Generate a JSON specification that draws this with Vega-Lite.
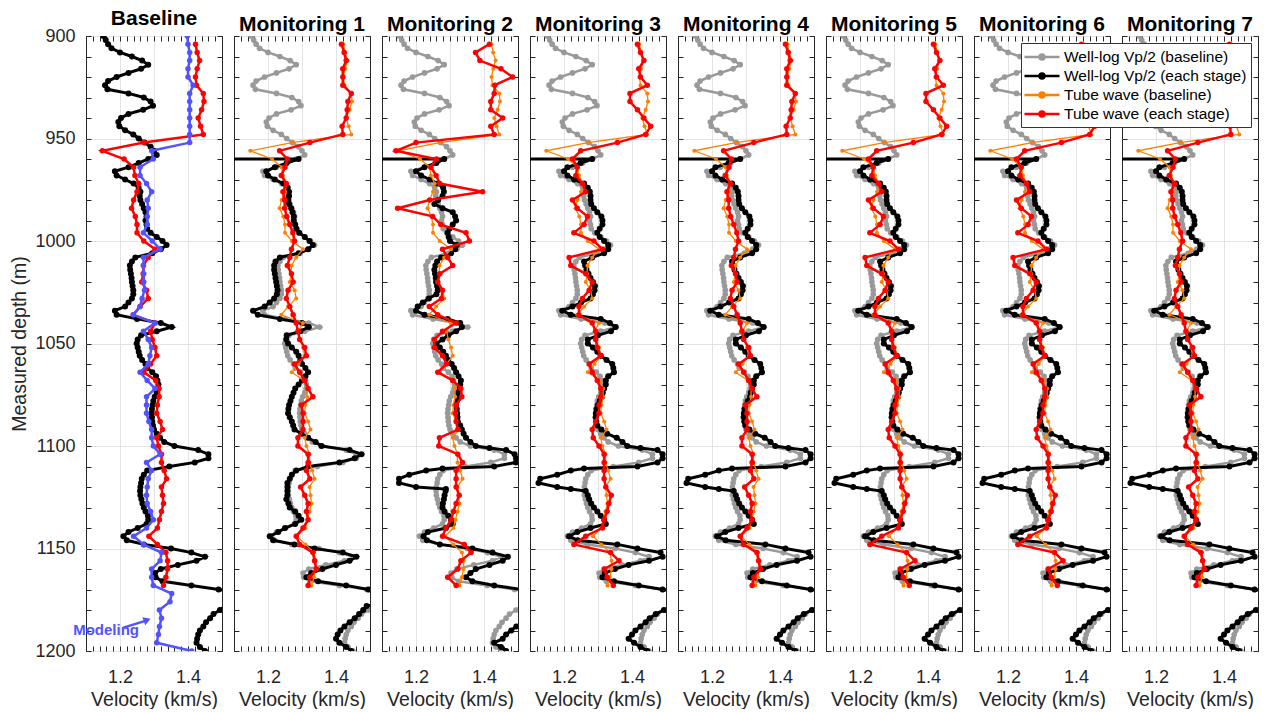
{
  "$schema": "https://vega.github.io/schema/vega-lite/v6.json",
  "padding": {"left": 9, "top": 7, "right": 3, "bottom": 0},
  "spacing": 12,
  "bounds": "flush",
  "resolve": {"scale": {"color": "independent"}, "legend": {"color": "independent"}},
  "config": {
    "font": "Liberation Sans",
    "view": {"stroke": "#262626", "strokeWidth": 1},
    "axis": {"domain": false, "tickColor": "#262626", "tickSize": -5, "tickWidth": 1, "labelColor": "#262626", "labelFont": "Liberation Sans", "labelFontSize": 18, "labelPadding": 16, "titleFont": "Liberation Sans", "titleFontSize": 19.5, "titleFontWeight": "normal", "titleColor": "#262626", "gridColor": "#e3e3e3", "gridWidth": 1, "titlePadding": 5},
    "axisX": {"labelPadding": 22, "titlePadding": 4},
    "title": {"font": "Liberation Sans", "fontSize": 21, "fontWeight": "bold", "color": "#000000", "offset": -2, "anchor": "middle"}
  },
  "datasets": {
    "wl": [
      {"d":900,"g":1.151},{"d":902,"g":1.158},{"d":904,"g":1.165},{"d":906,"g":1.175},{"d":908,"g":1.2},{"d":910,"g":1.235},{"d":912,"g":1.265},{"d":914,"g":1.283},{"d":916,"g":1.262},{"d":918,"g":1.225},{"d":920,"g":1.19},{"d":922,"g":1.165},{"d":924,"g":1.156},{"d":926,"g":1.163},{"d":928,"g":1.225},{"d":930,"g":1.27},{"d":932,"g":1.29},{"d":934,"g":1.297},{"d":936,"g":1.268},{"d":938,"g":1.225},{"d":940,"g":1.203},{"d":942,"g":1.195},{"d":944,"g":1.198},{"d":946,"g":1.215},{"d":948,"g":1.239},{"d":950,"g":1.255},{"d":952,"g":1.272},{"d":954,"g":1.29},{"d":956,"g":1.3},{"d":958,"g":1.308},
      {"d":959.9,"k1":0.9,"k2":0.9,"k3":0.9},
      {"d":960,"g":1.283,"k1":1.29,"k2":1.283,"k3":1.283},
      {"d":962,"g":1.255,"k1":1.255,"k2":1.26,"k3":1.249},
      {"d":964,"g":1.225,"k1":1.22,"k2":1.225,"k3":1.21},
      {"d":966,"g":1.185,"k1":1.195,"k2":1.2,"k3":1.2},
      {"d":968,"g":1.19,"k1":1.2,"k2":1.215,"k3":1.21},
      {"d":970,"g":1.215,"k1":1.22,"k2":1.24,"k3":1.23},
      {"d":972,"g":1.24,"k1":1.245,"k2":1.264,"k3":1.259},
      {"d":974,"g":1.255,"k1":1.258,"k2":1.28,"k3":1.27},
      {"d":976,"g":1.26,"k1":1.262,"k2":1.282,"k3":1.276},
      {"d":978,"g":1.258,"k1":1.262,"k2":1.278,"k3":1.278},
      {"d":980,"g":1.26,"k1":1.26,"k2":1.265,"k3":1.278},
      {"d":982,"g":1.265,"k1":1.262,"k2":1.254,"k3":1.28},
      {"d":984,"g":1.27,"k1":1.268,"k2":1.278,"k3":1.288},
      {"d":986,"g":1.275,"k1":1.272,"k2":1.308,"k3":1.298},
      {"d":988,"g":1.278,"k1":1.276,"k2":1.315,"k3":1.31},
      {"d":990,"g":1.275,"k1":1.276,"k2":1.318,"k3":1.313},
      {"d":992,"g":1.278,"k1":1.28,"k2":1.308,"k3":1.313},
      {"d":994,"g":1.28,"k1":1.284,"k2":1.298,"k3":1.305},
      {"d":996,"g":1.29,"k1":1.292,"k2":1.293,"k3":1.298},
      {"d":998,"g":1.308,"k1":1.308,"k2":1.296,"k3":1.305},
      {"d":1000,"g":1.325,"k1":1.322,"k2":1.3,"k3":1.318},
      {"d":1002,"g":1.337,"k1":1.332,"k2":1.32,"k3":1.33},
      {"d":1004,"g":1.32,"k1":1.318,"k2":1.315,"k3":1.33},
      {"d":1006,"g":1.295,"k1":1.29,"k2":1.303,"k3":1.318},
      {"d":1008,"g":1.245,"k1":1.235,"k2":1.274,"k3":1.283},
      {"d":1010,"g":1.235,"k1":1.222,"k2":1.262,"k3":1.259},
      {"d":1012,"g":1.229,"k1":1.218,"k2":1.257,"k3":1.262},
      {"d":1014,"g":1.23,"k1":1.218,"k2":1.254,"k3":1.266},
      {"d":1016,"g":1.232,"k1":1.22,"k2":1.256,"k3":1.272},
      {"d":1018,"g":1.234,"k1":1.222,"k2":1.258,"k3":1.278},
      {"d":1020,"g":1.235,"k1":1.224,"k2":1.259,"k3":1.285},
      {"d":1022,"g":1.237,"k1":1.226,"k2":1.262,"k3":1.291},
      {"d":1024,"g":1.239,"k1":1.228,"k2":1.264,"k3":1.29},
      {"d":1026,"g":1.239,"k1":1.226,"k2":1.26,"k3":1.285},
      {"d":1028,"g":1.235,"k1":1.218,"k2":1.238,"k3":1.278},
      {"d":1030,"g":1.225,"k1":1.205,"k2":1.22,"k3":1.25},
      {"d":1032,"g":1.215,"k1":1.19,"k2":1.205,"k3":1.225},
      {"d":1034,"g":1.185,"k1":1.156,"k2":1.2,"k3":1.195},
      {"d":1036,"g":1.19,"k1":1.17,"k2":1.225,"k3":1.22},
      {"d":1038,"g":1.25,"k1":1.235,"k2":1.293,"k3":1.308},
      {"d":1040,"g":1.32,"k1":1.3,"k2":1.33,"k3":1.335},
      {"d":1042,"g":1.352,"k1":1.32,"k2":1.335,"k3":1.352},
      {"d":1044,"g":1.308,"k1":1.295,"k2":1.318,"k3":1.338},
      {"d":1046,"g":1.262,"k1":1.255,"k2":1.295,"k3":1.3},
      {"d":1048,"g":1.252,"k1":1.254,"k2":1.278,"k3":1.27},
      {"d":1050,"g":1.249,"k1":1.259,"k2":1.26,"k3":1.27},
      {"d":1052,"g":1.252,"k1":1.27,"k2":1.27,"k3":1.285},
      {"d":1054,"g":1.255,"k1":1.283,"k2":1.28,"k3":1.298},
      {"d":1056,"g":1.258,"k1":1.29,"k2":1.288,"k3":1.308},
      {"d":1058,"g":1.265,"k1":1.295,"k2":1.295,"k3":1.325},
      {"d":1060,"g":1.275,"k1":1.3,"k2":1.305,"k3":1.342},
      {"d":1062,"g":1.28,"k1":1.31,"k2":1.312,"k3":1.345},
      {"d":1064,"g":1.295,"k1":1.318,"k2":1.318,"k3":1.347},
      {"d":1066,"g":1.306,"k1":1.31,"k2":1.325,"k3":1.33},
      {"d":1068,"g":1.31,"k1":1.3,"k2":1.332,"k3":1.323},
      {"d":1070,"g":1.313,"k1":1.29,"k2":1.33,"k3":1.323},
      {"d":1072,"g":1.312,"k1":1.28,"k2":1.327,"k3":1.318},
      {"d":1074,"g":1.308,"k1":1.275,"k2":1.323,"k3":1.314},
      {"d":1076,"g":1.302,"k1":1.27,"k2":1.322,"k3":1.312},
      {"d":1078,"g":1.298,"k1":1.266,"k2":1.32,"k3":1.305},
      {"d":1080,"g":1.296,"k1":1.262,"k2":1.318,"k3":1.3},
      {"d":1082,"g":1.294,"k1":1.26,"k2":1.32,"k3":1.296},
      {"d":1084,"g":1.293,"k1":1.259,"k2":1.321,"k3":1.294},
      {"d":1086,"g":1.294,"k1":1.264,"k2":1.322,"k3":1.293},
      {"d":1088,"g":1.295,"k1":1.27,"k2":1.323,"k3":1.295},
      {"d":1090,"g":1.297,"k1":1.274,"k2":1.33,"k3":1.298},
      {"d":1092,"g":1.3,"k1":1.278,"k2":1.335,"k3":1.31},
      {"d":1094,"g":1.308,"k1":1.298,"k2":1.34,"k3":1.327},
      {"d":1096,"g":1.318,"k1":1.318,"k2":1.347,"k3":1.355},
      {"d":1098,"g":1.33,"k1":1.34,"k2":1.36,"k3":1.372},
      {"d":1100,"g":1.36,"k1":1.357,"k2":1.376,"k3":1.386},
      {"d":1101,"k2":1.416,"k3":1.425},
      {"d":1102,"g":1.43,"k1":1.44,"k2":1.465,"k3":1.475},
      {"d":1104,"g":1.46,"k1":1.475,"k2":1.49,"k3":1.49},
      {"d":1106,"g":1.46,"k1":1.455,"k2":1.494,"k3":1.49},
      {"d":1108,"g":1.42,"k1":1.41,"k2":1.494,"k3":1.475},
      {"d":1110,"g":1.345,"k1":1.318,"k2":1.43,"k3":1.416},
      {"d":1111,"k2":1.278,"k3":1.259},
      {"d":1112,"g":1.28,"k1":1.283,"k2":1.23,"k3":1.22},
      {"d":1114,"g":1.27,"k1":1.27,"k2":1.18,"k3":1.18},
      {"d":1116,"g":1.264,"k1":1.264,"k2":1.15,"k3":1.13},
      {"d":1118,"g":1.262,"k1":1.257,"k2":1.15,"k3":1.125},
      {"d":1120,"g":1.26,"k1":1.257,"k2":1.2,"k3":1.18},
      {"d":1121,"k2":1.288,"k3":1.22},
      {"d":1122,"g":1.259,"k1":1.257,"k2":1.287,"k3":1.264},
      {"d":1124,"g":1.26,"k1":1.257,"k2":1.284,"k3":1.27},
      {"d":1126,"g":1.263,"k1":1.254,"k2":1.282,"k3":1.274},
      {"d":1128,"g":1.266,"k1":1.26,"k2":1.279,"k3":1.28},
      {"d":1130,"g":1.27,"k1":1.264,"k2":1.278,"k3":1.288},
      {"d":1132,"g":1.275,"k1":1.28,"k2":1.284,"k3":1.298},
      {"d":1134,"g":1.282,"k1":1.29,"k2":1.295,"k3":1.308},
      {"d":1136,"g":1.283,"k1":1.298,"k2":1.303,"k3":1.318},
      {"d":1138,"g":1.278,"k1":1.28,"k2":1.308,"k3":1.323},
      {"d":1140,"g":1.252,"k1":1.25,"k2":1.288,"k3":1.278},
      {"d":1142,"g":1.225,"k1":1.23,"k2":1.235,"k3":1.239},
      {"d":1144,"g":1.21,"k1":1.205,"k2":1.222,"k3":1.215},
      {"d":1146,"g":1.22,"k1":1.215,"k2":1.232,"k3":1.24},
      {"d":1148,"g":1.27,"k1":1.278,"k2":1.27,"k3":1.357},
      {"d":1150,"g":1.35,"k1":1.337,"k2":1.366,"k3":1.416},
      {"d":1152,"g":1.41,"k1":1.42,"k2":1.425,"k3":1.484},
      {"d":1154,"g":1.45,"k1":1.46,"k2":1.47,"k3":1.49},
      {"d":1156,"g":1.425,"k1":1.44,"k2":1.455,"k3":1.45},
      {"d":1158,"g":1.37,"k1":1.4,"k2":1.416,"k3":1.39},
      {"d":1160,"g":1.32,"k1":1.36,"k2":1.376,"k3":1.35},
      {"d":1162,"g":1.303,"k1":1.327,"k2":1.36,"k3":1.32},
      {"d":1164,"g":1.305,"k1":1.313,"k2":1.347,"k3":1.313},
      {"d":1166,"g":1.325,"k1":1.347,"k2":1.366,"k3":1.347},
      {"d":1168,"g":1.41,"k1":1.43,"k2":1.43,"k3":1.42},
      {"d":1170,"g":1.49,"k1":1.495,"k2":1.51,"k3":1.49},
      {"d":1172,"g":1.56,"k1":1.56,"k2":1.56,"k3":1.56},
      {"d":1174,"g":1.6,"k1":1.58,"k2":1.58,"k3":1.58},
      {"d":1176,"g":1.56,"k1":1.56,"k2":1.58,"k3":1.56},
      {"d":1178,"g":1.51,"k1":1.49,"k2":1.58,"k3":1.53},
      {"d":1180,"g":1.494,"k1":1.48,"k2":1.57,"k3":1.494},
      {"d":1182,"g":1.475,"k1":1.468,"k2":1.56,"k3":1.47},
      {"d":1184,"g":1.465,"k1":1.455,"k2":1.55,"k3":1.452},
      {"d":1186,"g":1.453,"k1":1.44,"k2":1.52,"k3":1.44},
      {"d":1188,"g":1.445,"k1":1.425,"k2":1.495,"k3":1.425},
      {"d":1190,"g":1.435,"k1":1.413,"k2":1.48,"k3":1.41},
      {"d":1192,"g":1.43,"k1":1.405,"k2":1.465,"k3":1.4},
      {"d":1194,"g":1.427,"k1":1.4,"k2":1.455,"k3":1.39},
      {"d":1196,"g":1.425,"k1":1.41,"k2":1.43,"k3":1.406},
      {"d":1198,"g":1.435,"k1":1.43,"k2":1.45,"k3":1.425},
      {"d":1200,"g":1.45,"k1":1.445,"k2":1.465,"k3":1.445}
    ],
    "tw": [
      {"d":904,"t0":1.422,"t1":1.416,"t2":1.416,"t3":1.416},
      {"d":908,"t0":1.427,"t1":1.424,"t2":1.375,"t3":1.425},
      {"d":912,"t0":1.434,"t1":1.43,"t2":1.388,"t3":1.435},
      {"d":916,"t0":1.427,"t1":1.42,"t2":1.45,"t3":1.42},
      {"d":920,"t0":1.422,"t1":1.42,"t2":1.484,"t3":1.425},
      {"d":924,"t0":1.425,"t1":1.42,"t2":1.432,"t3":1.445},
      {"d":928,"t0":1.445,"t1":1.445,"t2":1.43,"t3":1.394},
      {"d":932,"t0":1.447,"t1":1.435,"t2":1.42,"t3":1.394},
      {"d":936,"t0":1.44,"t1":1.433,"t2":1.42,"t3":1.416},
      {"d":940,"t0":1.43,"t1":1.43,"t2":1.455,"t3":1.435},
      {"d":944,"t0":1.437,"t1":1.418,"t2":1.42,"t3":1.455},
      {"d":948,"t0":1.445,"t1":1.42,"t2":1.43,"t3":1.44},
      {"d":952,"t0":1.27,"t1":1.323,"t2":1.2,"t3":1.357},
      {"d":956,"t0":1.148,"t1":1.234,"t2":1.141,"t3":1.249},
      {"d":960,"t0":1.212,"t1":1.257,"t2":1.26,"t3":1.225},
      {"d":964,"t0":1.24,"t1":1.25,"t2":1.244,"t3":1.239},
      {"d":968,"t0":1.244,"t1":1.239,"t2":1.259,"t3":1.235},
      {"d":972,"t0":1.255,"t1":1.254,"t2":1.27,"t3":1.254},
      {"d":976,"t0":1.25,"t1":1.244,"t2":1.396,"t3":1.264},
      {"d":980,"t0":1.24,"t1":1.249,"t2":1.24,"t3":1.225},
      {"d":984,"t0":1.234,"t1":1.249,"t2":1.146,"t3":1.239},
      {"d":988,"t0":1.245,"t1":1.255,"t2":1.249,"t3":1.269},
      {"d":992,"t0":1.25,"t1":1.264,"t2":1.273,"t3":1.259},
      {"d":996,"t0":1.25,"t1":1.273,"t2":1.347,"t3":1.229},
      {"d":1000,"t0":1.27,"t1":1.278,"t2":1.357,"t3":1.288},
      {"d":1004,"t0":1.303,"t1":1.269,"t2":1.278,"t3":1.313},
      {"d":1008,"t0":1.283,"t1":1.264,"t2":1.293,"t3":1.215},
      {"d":1012,"t0":1.269,"t1":1.257,"t2":1.308,"t3":1.22},
      {"d":1016,"t0":1.268,"t1":1.269,"t2":1.27,"t3":1.264},
      {"d":1020,"t0":1.264,"t1":1.274,"t2":1.264,"t3":1.283},
      {"d":1024,"t0":1.278,"t1":1.259,"t2":1.278,"t3":1.274},
      {"d":1028,"t0":1.283,"t1":1.254,"t2":1.275,"t3":1.254},
      {"d":1032,"t0":1.259,"t1":1.264,"t2":1.239,"t3":1.244},
      {"d":1036,"t0":1.239,"t1":1.274,"t2":1.264,"t3":1.244},
      {"d":1040,"t0":1.303,"t1":1.283,"t2":1.318,"t3":1.283},
      {"d":1044,"t0":1.29,"t1":1.288,"t2":1.278,"t3":1.293},
      {"d":1048,"t0":1.295,"t1":1.293,"t2":1.254,"t3":1.293},
      {"d":1052,"t0":1.303,"t1":1.308,"t2":1.254,"t3":1.298},
      {"d":1056,"t0":1.308,"t1":1.313,"t2":1.278,"t3":1.308},
      {"d":1060,"t0":1.29,"t1":1.278,"t2":1.29,"t3":1.274},
      {"d":1064,"t0":1.27,"t1":1.293,"t2":1.264,"t3":1.283},
      {"d":1068,"t0":1.305,"t1":1.308,"t2":1.308,"t3":1.298},
      {"d":1072,"t0":1.315,"t1":1.318,"t2":1.332,"t3":1.308},
      {"d":1076,"t0":1.315,"t1":1.332,"t2":1.335,"t3":1.308},
      {"d":1080,"t0":1.31,"t1":1.298,"t2":1.318,"t3":1.303},
      {"d":1084,"t0":1.308,"t1":1.303,"t2":1.316,"t3":1.303},
      {"d":1088,"t0":1.318,"t1":1.303,"t2":1.318,"t3":1.293},
      {"d":1092,"t0":1.325,"t1":1.303,"t2":1.323,"t3":1.283},
      {"d":1096,"t0":1.308,"t1":1.288,"t2":1.269,"t3":1.286},
      {"d":1100,"t0":1.313,"t1":1.288,"t2":1.267,"t3":1.303},
      {"d":1104,"t0":1.322,"t1":1.318,"t2":1.323,"t3":1.318},
      {"d":1108,"t0":1.322,"t1":1.318,"t2":1.337,"t3":1.318},
      {"d":1112,"t0":1.33,"t1":1.313,"t2":1.318,"t3":1.318},
      {"d":1116,"t0":1.337,"t1":1.323,"t2":1.318,"t3":1.318},
      {"d":1120,"t0":1.322,"t1":1.296,"t2":1.318,"t3":1.323},
      {"d":1124,"t0":1.325,"t1":1.308,"t2":1.327,"t3":1.339},
      {"d":1128,"t0":1.328,"t1":1.318,"t2":1.318,"t3":1.332},
      {"d":1132,"t0":1.322,"t1":1.313,"t2":1.31,"t3":1.327},
      {"d":1136,"t0":1.316,"t1":1.318,"t2":1.303,"t3":1.318},
      {"d":1140,"t0":1.31,"t1":1.303,"t2":1.288,"t3":1.313},
      {"d":1144,"t0":1.285,"t1":1.283,"t2":1.278,"t3":1.264},
      {"d":1148,"t0":1.31,"t1":1.293,"t2":1.342,"t3":1.229},
      {"d":1152,"t0":1.335,"t1":1.332,"t2":1.362,"t3":1.337},
      {"d":1156,"t0":1.34,"t1":1.337,"t2":1.332,"t3":1.362},
      {"d":1160,"t0":1.34,"t1":1.342,"t2":1.323,"t3":1.318},
      {"d":1164,"t0":1.335,"t1":1.323,"t2":1.293,"t3":1.327},
      {"d":1168,"t0":1.328,"t1":1.318,"t2":1.318,"t3":1.345}
    ],
    "mod": [
      {"d":900,"v":1.398},{"d":904,"v":1.4},{"d":908,"v":1.405},{"d":912,"v":1.405},{"d":916,"v":1.4},{"d":920,"v":1.4},{"d":924,"v":1.415},{"d":928,"v":1.405},{"d":932,"v":1.405},{"d":936,"v":1.405},{"d":940,"v":1.405},{"d":944,"v":1.405},{"d":948,"v":1.405},{"d":952,"v":1.405},{"d":956,"v":1.293},{"d":960,"v":1.298},{"d":964,"v":1.259},{"d":968,"v":1.259},{"d":972,"v":1.278},{"d":976,"v":1.293},{"d":980,"v":1.28},{"d":984,"v":1.283},{"d":988,"v":1.28},{"d":992,"v":1.28},{"d":996,"v":1.269},{"d":1000,"v":1.295},{"d":1004,"v":1.318},{"d":1008,"v":1.269},{"d":1012,"v":1.269},{"d":1016,"v":1.27},{"d":1020,"v":1.27},{"d":1024,"v":1.272},{"d":1028,"v":1.265},{"d":1032,"v":1.259},{"d":1036,"v":1.239},{"d":1040,"v":1.303},{"d":1044,"v":1.269},{"d":1048,"v":1.283},{"d":1052,"v":1.293},{"d":1056,"v":1.288},{"d":1060,"v":1.283},{"d":1064,"v":1.259},{"d":1068,"v":1.28},{"d":1072,"v":1.303},{"d":1076,"v":1.278},{"d":1080,"v":1.278},{"d":1084,"v":1.278},{"d":1088,"v":1.285},{"d":1092,"v":1.293},{"d":1096,"v":1.293},{"d":1100,"v":1.298},{"d":1104,"v":1.318},{"d":1108,"v":1.278},{"d":1112,"v":1.293},{"d":1116,"v":1.283},{"d":1120,"v":1.28},{"d":1124,"v":1.278},{"d":1128,"v":1.28},{"d":1132,"v":1.29},{"d":1136,"v":1.298},{"d":1140,"v":1.278},{"d":1144,"v":1.24},{"d":1148,"v":1.269},{"d":1152,"v":1.322},{"d":1156,"v":1.318},{"d":1160,"v":1.293},{"d":1164,"v":1.293},{"d":1168,"v":1.298},{"d":1172,"v":1.352},{"d":1176,"v":1.347},{"d":1180,"v":1.316},{"d":1184,"v":1.322},{"d":1188,"v":1.316},{"d":1192,"v":1.313},{"d":1196,"v":1.308},{"d":1200,"v":1.411}
    ],
    "arrow": [{"d":1188.6,"v":1.21},{"d":1185.4,"v":1.272}],
    "arrowhead": [{"d":1184.9,"v":1.28}],
    "note": [{"d":1189.8,"v":1.159,"label":"Modeling"}]
  },
  "hconcat": [
    {
      "width": 136, "height": 615, "title": "Baseline",
      "resolve": {"axis": {"x": "independent", "y": "independent"}},
      "layer": [
        {"data": {"name": "wl"}, "mark": {"type": "point", "opacity": 0},
         "encoding": {
           "x": {"field": "g", "type": "quantitative", "scale": {"domain": [1.1, 1.5], "nice": false, "zero": false},
                 "axis": {"orient": "bottom", "values": [1.1,1.12,1.14,1.16,1.18,1.2,1.22,1.24,1.26,1.28,1.3,1.32,1.34,1.36,1.38,1.4,1.42,1.44,1.46,1.48,1.5], "format": ".1f", "grid": true, "gridOpacity": {"condition": {"test": "abs(datum.value-1.2)<0.001||abs(datum.value-1.3)<0.001||abs(datum.value-1.4)<0.001", "value": 1}, "value": 0}, "labelExpr": "abs(datum.value-1.2)<0.001||abs(datum.value-1.4)<0.001 ? datum.label : ''", "labelOverlap": false, "labelFlush": false, "title": "Velocity (km/s)"}},
           "y": {"field": "d", "type": "quantitative", "scale": {"domain": [900, 1200], "reverse": true, "nice": false, "zero": false},
                 "axis": {"orient": "left", "values": [900,910,920,930,940,950,960,970,980,990,1000,1010,1020,1030,1040,1050,1060,1070,1080,1090,1100,1110,1120,1130,1140,1150,1160,1170,1180,1190,1200], "format": "d", "grid": true, "gridOpacity": {"condition": {"test": "datum.value%50==0", "value": 1}, "value": 0}, "labelExpr": "datum.value%50==0 ? datum.label : ''", "labelOverlap": false, "title": "Measured depth (m)"}}}},
        {"data": {"name": "wl"}, "mark": {"type": "point", "opacity": 0},
         "encoding": {
           "x": {"field": "g", "type": "quantitative", "scale": {"domain": [1.1, 1.5], "nice": false, "zero": false},
                 "axis": {"orient": "top", "values": [1.1,1.12,1.14,1.16,1.18,1.2,1.22,1.24,1.26,1.28,1.3,1.32,1.34,1.36,1.38,1.4,1.42,1.44,1.46,1.48,1.5], "labels": false, "grid": false, "title": null}},
           "y": {"field": "d", "type": "quantitative", "scale": {"domain": [900, 1200], "reverse": true, "nice": false, "zero": false},
                 "axis": {"orient": "right", "values": [900,910,920,930,940,950,960,970,980,990,1000,1010,1020,1030,1040,1050,1060,1070,1080,1090,1100,1110,1120,1130,1140,1150,1160,1170,1180,1190,1200], "labels": false, "grid": false, "title": null}}}},
        {"data": {"name": "wl"}, "transform": [{"filter": "isValid(datum.g)"}],
         "encoding": {"x": {"field": "g", "type": "quantitative", "scale": {"domain": [1.1, 1.5], "nice": false, "zero": false}, "axis": null},
                      "y": {"field": "d", "type": "quantitative", "scale": {"domain": [900, 1200], "reverse": true, "nice": false, "zero": false}, "axis": null},
                      "order": {"field": "d", "type": "quantitative"}},
         "layer": [{"mark": {"type": "line", "color": "#000000", "strokeWidth": 3, "clip": true}},
                   {"mark": {"type": "point", "filled": true, "opacity": 1, "color": "#000000", "size": 36, "clip": true}}]},
        {"data": {"name": "tw"}, "transform": [{"filter": "isValid(datum.t0)"}],
         "encoding": {"x": {"field": "t0", "type": "quantitative", "scale": {"domain": [1.1, 1.5], "nice": false, "zero": false}, "axis": null},
                      "y": {"field": "d", "type": "quantitative", "scale": {"domain": [900, 1200], "reverse": true, "nice": false, "zero": false}, "axis": null},
                      "order": {"field": "d", "type": "quantitative"}},
         "layer": [{"mark": {"type": "line", "color": "#ff0000", "strokeWidth": 2.5, "clip": true}},
                   {"mark": {"type": "point", "filled": true, "opacity": 1, "color": "#ff0000", "size": 30, "clip": true}}]},
        {"data": {"name": "mod"},
         "encoding": {"x": {"field": "v", "type": "quantitative", "scale": {"domain": [1.1, 1.5], "nice": false, "zero": false}, "axis": null},
                      "y": {"field": "d", "type": "quantitative", "scale": {"domain": [900, 1200], "reverse": true, "nice": false, "zero": false}, "axis": null},
                      "order": {"field": "d", "type": "quantitative"}},
         "layer": [{"mark": {"type": "line", "color": "#5252ff", "strokeWidth": 2.5, "clip": true}},
                   {"mark": {"type": "point", "filled": true, "opacity": 1, "color": "#5252ff", "size": 30, "clip": true}}]},
        {"data": {"name": "arrow"}, "mark": {"type": "line", "color": "#5252ff", "strokeWidth": 2.5},
         "encoding": {"x": {"field": "v", "type": "quantitative", "scale": {"domain": [1.1, 1.5], "nice": false, "zero": false}, "axis": null},
                      "y": {"field": "d", "type": "quantitative", "scale": {"domain": [900, 1200], "reverse": true, "nice": false, "zero": false}, "axis": null}}},
        {"data": {"name": "arrowhead"}, "mark": {"type": "point", "shape": "triangle-up", "filled": true, "opacity": 1, "color": "#5252ff", "size": 70, "angle": 70},
         "encoding": {"x": {"field": "v", "type": "quantitative", "scale": {"domain": [1.1, 1.5], "nice": false, "zero": false}, "axis": null},
                      "y": {"field": "d", "type": "quantitative", "scale": {"domain": [900, 1200], "reverse": true, "nice": false, "zero": false}, "axis": null}}},
        {"data": {"name": "note"}, "mark": {"type": "text", "color": "#5252ff", "font": "Liberation Sans", "fontSize": 15, "fontWeight": "bold", "align": "center", "baseline": "middle"},
         "encoding": {"x": {"field": "v", "type": "quantitative", "scale": {"domain": [1.1, 1.5], "nice": false, "zero": false}, "axis": null},
                      "y": {"field": "d", "type": "quantitative", "scale": {"domain": [900, 1200], "reverse": true, "nice": false, "zero": false}, "axis": null},
                      "text": {"field": "label"}}}
      ]
    },
    {
      "width": 136, "height": 615, "title": "Monitoring 1",
      "resolve": {"axis": {"x": "independent", "y": "independent"}},
      "layer": [
        {"data": {"name": "wl"}, "mark": {"type": "point", "opacity": 0},
         "encoding": {
           "x": {"field": "g", "type": "quantitative", "scale": {"domain": [1.1, 1.5], "nice": false, "zero": false},
                 "axis": {"orient": "bottom", "values": [1.1,1.12,1.14,1.16,1.18,1.2,1.22,1.24,1.26,1.28,1.3,1.32,1.34,1.36,1.38,1.4,1.42,1.44,1.46,1.48,1.5], "format": ".1f", "grid": true, "gridOpacity": {"condition": {"test": "abs(datum.value-1.2)<0.001||abs(datum.value-1.3)<0.001||abs(datum.value-1.4)<0.001", "value": 1}, "value": 0}, "labelExpr": "abs(datum.value-1.2)<0.001||abs(datum.value-1.4)<0.001 ? datum.label : ''", "labelOverlap": false, "labelFlush": false, "title": "Velocity (km/s)"}},
           "y": {"field": "d", "type": "quantitative", "scale": {"domain": [900, 1200], "reverse": true, "nice": false, "zero": false},
                 "axis": {"orient": "left", "values": [900,910,920,930,940,950,960,970,980,990,1000,1010,1020,1030,1040,1050,1060,1070,1080,1090,1100,1110,1120,1130,1140,1150,1160,1170,1180,1190,1200], "grid": true, "gridOpacity": {"condition": {"test": "datum.value%50==0", "value": 1}, "value": 0}, "labels": false, "title": null}}}},
        {"data": {"name": "wl"}, "mark": {"type": "point", "opacity": 0},
         "encoding": {
           "x": {"field": "g", "type": "quantitative", "scale": {"domain": [1.1, 1.5], "nice": false, "zero": false},
                 "axis": {"orient": "top", "values": [1.1,1.12,1.14,1.16,1.18,1.2,1.22,1.24,1.26,1.28,1.3,1.32,1.34,1.36,1.38,1.4,1.42,1.44,1.46,1.48,1.5], "labels": false, "grid": false, "title": null}},
           "y": {"field": "d", "type": "quantitative", "scale": {"domain": [900, 1200], "reverse": true, "nice": false, "zero": false},
                 "axis": {"orient": "right", "values": [900,910,920,930,940,950,960,970,980,990,1000,1010,1020,1030,1040,1050,1060,1070,1080,1090,1100,1110,1120,1130,1140,1150,1160,1170,1180,1190,1200], "labels": false, "grid": false, "title": null}}}},
        {"data": {"name": "wl"}, "transform": [{"filter": "isValid(datum.g)"}],
         "encoding": {"x": {"field": "g", "type": "quantitative", "scale": {"domain": [1.1, 1.5], "nice": false, "zero": false}, "axis": null},
                      "y": {"field": "d", "type": "quantitative", "scale": {"domain": [900, 1200], "reverse": true, "nice": false, "zero": false}, "axis": null},
                      "order": {"field": "d", "type": "quantitative"}},
         "layer": [{"mark": {"type": "line", "color": "#999999", "strokeWidth": 2.5, "clip": true}},
                   {"mark": {"type": "point", "filled": true, "opacity": 1, "color": "#999999", "size": 32, "clip": true}}]},
        {"data": {"name": "wl"}, "transform": [{"filter": "isValid(datum.k1)"}],
         "encoding": {"x": {"field": "k1", "type": "quantitative", "scale": {"domain": [1.1, 1.5], "nice": false, "zero": false}, "axis": null},
                      "y": {"field": "d", "type": "quantitative", "scale": {"domain": [900, 1200], "reverse": true, "nice": false, "zero": false}, "axis": null},
                      "order": {"field": "d", "type": "quantitative"}},
         "layer": [{"mark": {"type": "line", "color": "#000000", "strokeWidth": 3, "clip": true}},
                   {"mark": {"type": "point", "filled": true, "opacity": 1, "color": "#000000", "size": 36, "clip": true}}]},
        {"data": {"name": "tw"}, "transform": [{"filter": "isValid(datum.t0)"}],
         "encoding": {"x": {"field": "t0", "type": "quantitative", "scale": {"domain": [1.1, 1.5], "nice": false, "zero": false}, "axis": null},
                      "y": {"field": "d", "type": "quantitative", "scale": {"domain": [900, 1200], "reverse": true, "nice": false, "zero": false}, "axis": null},
                      "order": {"field": "d", "type": "quantitative"}},
         "layer": [{"mark": {"type": "line", "color": "#ff8000", "strokeWidth": 1.3, "clip": true}},
                   {"mark": {"type": "point", "filled": true, "opacity": 1, "color": "#ff8000", "size": 16, "clip": true}}]},
        {"data": {"name": "tw"}, "transform": [{"filter": "isValid(datum.t1)"}],
         "encoding": {"x": {"field": "t1", "type": "quantitative", "scale": {"domain": [1.1, 1.5], "nice": false, "zero": false}, "axis": null},
                      "y": {"field": "d", "type": "quantitative", "scale": {"domain": [900, 1200], "reverse": true, "nice": false, "zero": false}, "axis": null},
                      "order": {"field": "d", "type": "quantitative"}},
         "layer": [{"mark": {"type": "line", "color": "#ff0000", "strokeWidth": 2.5, "clip": true}},
                   {"mark": {"type": "point", "filled": true, "opacity": 1, "color": "#ff0000", "size": 30, "clip": true}}]}
      ]
    },
    {
      "width": 136, "height": 615, "title": "Monitoring 2",
      "resolve": {"axis": {"x": "independent", "y": "independent"}},
      "layer": [
        {"data": {"name": "wl"}, "mark": {"type": "point", "opacity": 0},
         "encoding": {
           "x": {"field": "g", "type": "quantitative", "scale": {"domain": [1.1, 1.5], "nice": false, "zero": false},
                 "axis": {"orient": "bottom", "values": [1.1,1.12,1.14,1.16,1.18,1.2,1.22,1.24,1.26,1.28,1.3,1.32,1.34,1.36,1.38,1.4,1.42,1.44,1.46,1.48,1.5], "format": ".1f", "grid": true, "gridOpacity": {"condition": {"test": "abs(datum.value-1.2)<0.001||abs(datum.value-1.3)<0.001||abs(datum.value-1.4)<0.001", "value": 1}, "value": 0}, "labelExpr": "abs(datum.value-1.2)<0.001||abs(datum.value-1.4)<0.001 ? datum.label : ''", "labelOverlap": false, "labelFlush": false, "title": "Velocity (km/s)"}},
           "y": {"field": "d", "type": "quantitative", "scale": {"domain": [900, 1200], "reverse": true, "nice": false, "zero": false},
                 "axis": {"orient": "left", "values": [900,910,920,930,940,950,960,970,980,990,1000,1010,1020,1030,1040,1050,1060,1070,1080,1090,1100,1110,1120,1130,1140,1150,1160,1170,1180,1190,1200], "grid": true, "gridOpacity": {"condition": {"test": "datum.value%50==0", "value": 1}, "value": 0}, "labels": false, "title": null}}}},
        {"data": {"name": "wl"}, "mark": {"type": "point", "opacity": 0},
         "encoding": {
           "x": {"field": "g", "type": "quantitative", "scale": {"domain": [1.1, 1.5], "nice": false, "zero": false},
                 "axis": {"orient": "top", "values": [1.1,1.12,1.14,1.16,1.18,1.2,1.22,1.24,1.26,1.28,1.3,1.32,1.34,1.36,1.38,1.4,1.42,1.44,1.46,1.48,1.5], "labels": false, "grid": false, "title": null}},
           "y": {"field": "d", "type": "quantitative", "scale": {"domain": [900, 1200], "reverse": true, "nice": false, "zero": false},
                 "axis": {"orient": "right", "values": [900,910,920,930,940,950,960,970,980,990,1000,1010,1020,1030,1040,1050,1060,1070,1080,1090,1100,1110,1120,1130,1140,1150,1160,1170,1180,1190,1200], "labels": false, "grid": false, "title": null}}}},
        {"data": {"name": "wl"}, "transform": [{"filter": "isValid(datum.g)"}],
         "encoding": {"x": {"field": "g", "type": "quantitative", "scale": {"domain": [1.1, 1.5], "nice": false, "zero": false}, "axis": null},
                      "y": {"field": "d", "type": "quantitative", "scale": {"domain": [900, 1200], "reverse": true, "nice": false, "zero": false}, "axis": null},
                      "order": {"field": "d", "type": "quantitative"}},
         "layer": [{"mark": {"type": "line", "color": "#999999", "strokeWidth": 2.5, "clip": true}},
                   {"mark": {"type": "point", "filled": true, "opacity": 1, "color": "#999999", "size": 32, "clip": true}}]},
        {"data": {"name": "wl"}, "transform": [{"filter": "isValid(datum.k2)"}],
         "encoding": {"x": {"field": "k2", "type": "quantitative", "scale": {"domain": [1.1, 1.5], "nice": false, "zero": false}, "axis": null},
                      "y": {"field": "d", "type": "quantitative", "scale": {"domain": [900, 1200], "reverse": true, "nice": false, "zero": false}, "axis": null},
                      "order": {"field": "d", "type": "quantitative"}},
         "layer": [{"mark": {"type": "line", "color": "#000000", "strokeWidth": 3, "clip": true}},
                   {"mark": {"type": "point", "filled": true, "opacity": 1, "color": "#000000", "size": 36, "clip": true}}]},
        {"data": {"name": "tw"}, "transform": [{"filter": "isValid(datum.t0)"}],
         "encoding": {"x": {"field": "t0", "type": "quantitative", "scale": {"domain": [1.1, 1.5], "nice": false, "zero": false}, "axis": null},
                      "y": {"field": "d", "type": "quantitative", "scale": {"domain": [900, 1200], "reverse": true, "nice": false, "zero": false}, "axis": null},
                      "order": {"field": "d", "type": "quantitative"}},
         "layer": [{"mark": {"type": "line", "color": "#ff8000", "strokeWidth": 1.3, "clip": true}},
                   {"mark": {"type": "point", "filled": true, "opacity": 1, "color": "#ff8000", "size": 16, "clip": true}}]},
        {"data": {"name": "tw"}, "transform": [{"filter": "isValid(datum.t2)"}],
         "encoding": {"x": {"field": "t2", "type": "quantitative", "scale": {"domain": [1.1, 1.5], "nice": false, "zero": false}, "axis": null},
                      "y": {"field": "d", "type": "quantitative", "scale": {"domain": [900, 1200], "reverse": true, "nice": false, "zero": false}, "axis": null},
                      "order": {"field": "d", "type": "quantitative"}},
         "layer": [{"mark": {"type": "line", "color": "#ff0000", "strokeWidth": 2.5, "clip": true}},
                   {"mark": {"type": "point", "filled": true, "opacity": 1, "color": "#ff0000", "size": 30, "clip": true}}]}
      ]
    },
    {
      "width": 136, "height": 615, "title": "Monitoring 3",
      "resolve": {"axis": {"x": "independent", "y": "independent"}},
      "layer": [
        {"data": {"name": "wl"}, "mark": {"type": "point", "opacity": 0},
         "encoding": {
           "x": {"field": "g", "type": "quantitative", "scale": {"domain": [1.1, 1.5], "nice": false, "zero": false},
                 "axis": {"orient": "bottom", "values": [1.1,1.12,1.14,1.16,1.18,1.2,1.22,1.24,1.26,1.28,1.3,1.32,1.34,1.36,1.38,1.4,1.42,1.44,1.46,1.48,1.5], "format": ".1f", "grid": true, "gridOpacity": {"condition": {"test": "abs(datum.value-1.2)<0.001||abs(datum.value-1.3)<0.001||abs(datum.value-1.4)<0.001", "value": 1}, "value": 0}, "labelExpr": "abs(datum.value-1.2)<0.001||abs(datum.value-1.4)<0.001 ? datum.label : ''", "labelOverlap": false, "labelFlush": false, "title": "Velocity (km/s)"}},
           "y": {"field": "d", "type": "quantitative", "scale": {"domain": [900, 1200], "reverse": true, "nice": false, "zero": false},
                 "axis": {"orient": "left", "values": [900,910,920,930,940,950,960,970,980,990,1000,1010,1020,1030,1040,1050,1060,1070,1080,1090,1100,1110,1120,1130,1140,1150,1160,1170,1180,1190,1200], "grid": true, "gridOpacity": {"condition": {"test": "datum.value%50==0", "value": 1}, "value": 0}, "labels": false, "title": null}}}},
        {"data": {"name": "wl"}, "mark": {"type": "point", "opacity": 0},
         "encoding": {
           "x": {"field": "g", "type": "quantitative", "scale": {"domain": [1.1, 1.5], "nice": false, "zero": false},
                 "axis": {"orient": "top", "values": [1.1,1.12,1.14,1.16,1.18,1.2,1.22,1.24,1.26,1.28,1.3,1.32,1.34,1.36,1.38,1.4,1.42,1.44,1.46,1.48,1.5], "labels": false, "grid": false, "title": null}},
           "y": {"field": "d", "type": "quantitative", "scale": {"domain": [900, 1200], "reverse": true, "nice": false, "zero": false},
                 "axis": {"orient": "right", "values": [900,910,920,930,940,950,960,970,980,990,1000,1010,1020,1030,1040,1050,1060,1070,1080,1090,1100,1110,1120,1130,1140,1150,1160,1170,1180,1190,1200], "labels": false, "grid": false, "title": null}}}},
        {"data": {"name": "wl"}, "transform": [{"filter": "isValid(datum.g)"}],
         "encoding": {"x": {"field": "g", "type": "quantitative", "scale": {"domain": [1.1, 1.5], "nice": false, "zero": false}, "axis": null},
                      "y": {"field": "d", "type": "quantitative", "scale": {"domain": [900, 1200], "reverse": true, "nice": false, "zero": false}, "axis": null},
                      "order": {"field": "d", "type": "quantitative"}},
         "layer": [{"mark": {"type": "line", "color": "#999999", "strokeWidth": 2.5, "clip": true}},
                   {"mark": {"type": "point", "filled": true, "opacity": 1, "color": "#999999", "size": 32, "clip": true}}]},
        {"data": {"name": "wl"}, "transform": [{"filter": "isValid(datum.k3)"}],
         "encoding": {"x": {"field": "k3", "type": "quantitative", "scale": {"domain": [1.1, 1.5], "nice": false, "zero": false}, "axis": null},
                      "y": {"field": "d", "type": "quantitative", "scale": {"domain": [900, 1200], "reverse": true, "nice": false, "zero": false}, "axis": null},
                      "order": {"field": "d", "type": "quantitative"}},
         "layer": [{"mark": {"type": "line", "color": "#000000", "strokeWidth": 3, "clip": true}},
                   {"mark": {"type": "point", "filled": true, "opacity": 1, "color": "#000000", "size": 36, "clip": true}}]},
        {"data": {"name": "tw"}, "transform": [{"filter": "isValid(datum.t0)"}],
         "encoding": {"x": {"field": "t0", "type": "quantitative", "scale": {"domain": [1.1, 1.5], "nice": false, "zero": false}, "axis": null},
                      "y": {"field": "d", "type": "quantitative", "scale": {"domain": [900, 1200], "reverse": true, "nice": false, "zero": false}, "axis": null},
                      "order": {"field": "d", "type": "quantitative"}},
         "layer": [{"mark": {"type": "line", "color": "#ff8000", "strokeWidth": 1.3, "clip": true}},
                   {"mark": {"type": "point", "filled": true, "opacity": 1, "color": "#ff8000", "size": 16, "clip": true}}]},
        {"data": {"name": "tw"}, "transform": [{"filter": "isValid(datum.t3)"}],
         "encoding": {"x": {"field": "t3", "type": "quantitative", "scale": {"domain": [1.1, 1.5], "nice": false, "zero": false}, "axis": null},
                      "y": {"field": "d", "type": "quantitative", "scale": {"domain": [900, 1200], "reverse": true, "nice": false, "zero": false}, "axis": null},
                      "order": {"field": "d", "type": "quantitative"}},
         "layer": [{"mark": {"type": "line", "color": "#ff0000", "strokeWidth": 2.5, "clip": true}},
                   {"mark": {"type": "point", "filled": true, "opacity": 1, "color": "#ff0000", "size": 30, "clip": true}}]}
      ]
    },
    {
      "width": 136, "height": 615, "title": "Monitoring 4",
      "resolve": {"axis": {"x": "independent", "y": "independent"}},
      "layer": [
        {"data": {"name": "wl"}, "mark": {"type": "point", "opacity": 0},
         "encoding": {
           "x": {"field": "g", "type": "quantitative", "scale": {"domain": [1.1, 1.5], "nice": false, "zero": false},
                 "axis": {"orient": "bottom", "values": [1.1,1.12,1.14,1.16,1.18,1.2,1.22,1.24,1.26,1.28,1.3,1.32,1.34,1.36,1.38,1.4,1.42,1.44,1.46,1.48,1.5], "format": ".1f", "grid": true, "gridOpacity": {"condition": {"test": "abs(datum.value-1.2)<0.001||abs(datum.value-1.3)<0.001||abs(datum.value-1.4)<0.001", "value": 1}, "value": 0}, "labelExpr": "abs(datum.value-1.2)<0.001||abs(datum.value-1.4)<0.001 ? datum.label : ''", "labelOverlap": false, "labelFlush": false, "title": "Velocity (km/s)"}},
           "y": {"field": "d", "type": "quantitative", "scale": {"domain": [900, 1200], "reverse": true, "nice": false, "zero": false},
                 "axis": {"orient": "left", "values": [900,910,920,930,940,950,960,970,980,990,1000,1010,1020,1030,1040,1050,1060,1070,1080,1090,1100,1110,1120,1130,1140,1150,1160,1170,1180,1190,1200], "grid": true, "gridOpacity": {"condition": {"test": "datum.value%50==0", "value": 1}, "value": 0}, "labels": false, "title": null}}}},
        {"data": {"name": "wl"}, "mark": {"type": "point", "opacity": 0},
         "encoding": {
           "x": {"field": "g", "type": "quantitative", "scale": {"domain": [1.1, 1.5], "nice": false, "zero": false},
                 "axis": {"orient": "top", "values": [1.1,1.12,1.14,1.16,1.18,1.2,1.22,1.24,1.26,1.28,1.3,1.32,1.34,1.36,1.38,1.4,1.42,1.44,1.46,1.48,1.5], "labels": false, "grid": false, "title": null}},
           "y": {"field": "d", "type": "quantitative", "scale": {"domain": [900, 1200], "reverse": true, "nice": false, "zero": false},
                 "axis": {"orient": "right", "values": [900,910,920,930,940,950,960,970,980,990,1000,1010,1020,1030,1040,1050,1060,1070,1080,1090,1100,1110,1120,1130,1140,1150,1160,1170,1180,1190,1200], "labels": false, "grid": false, "title": null}}}},
        {"data": {"name": "wl"}, "transform": [{"filter": "isValid(datum.g)"}],
         "encoding": {"x": {"field": "g", "type": "quantitative", "scale": {"domain": [1.1, 1.5], "nice": false, "zero": false}, "axis": null},
                      "y": {"field": "d", "type": "quantitative", "scale": {"domain": [900, 1200], "reverse": true, "nice": false, "zero": false}, "axis": null},
                      "order": {"field": "d", "type": "quantitative"}},
         "layer": [{"mark": {"type": "line", "color": "#999999", "strokeWidth": 2.5, "clip": true}},
                   {"mark": {"type": "point", "filled": true, "opacity": 1, "color": "#999999", "size": 32, "clip": true}}]},
        {"data": {"name": "wl"}, "transform": [{"filter": "isValid(datum.k3)"}],
         "encoding": {"x": {"field": "k3", "type": "quantitative", "scale": {"domain": [1.1, 1.5], "nice": false, "zero": false}, "axis": null},
                      "y": {"field": "d", "type": "quantitative", "scale": {"domain": [900, 1200], "reverse": true, "nice": false, "zero": false}, "axis": null},
                      "order": {"field": "d", "type": "quantitative"}},
         "layer": [{"mark": {"type": "line", "color": "#000000", "strokeWidth": 3, "clip": true}},
                   {"mark": {"type": "point", "filled": true, "opacity": 1, "color": "#000000", "size": 36, "clip": true}}]},
        {"data": {"name": "tw"}, "transform": [{"filter": "isValid(datum.t0)"}],
         "encoding": {"x": {"field": "t0", "type": "quantitative", "scale": {"domain": [1.1, 1.5], "nice": false, "zero": false}, "axis": null},
                      "y": {"field": "d", "type": "quantitative", "scale": {"domain": [900, 1200], "reverse": true, "nice": false, "zero": false}, "axis": null},
                      "order": {"field": "d", "type": "quantitative"}},
         "layer": [{"mark": {"type": "line", "color": "#ff8000", "strokeWidth": 1.3, "clip": true}},
                   {"mark": {"type": "point", "filled": true, "opacity": 1, "color": "#ff8000", "size": 16, "clip": true}}]},
        {"data": {"name": "tw"}, "transform": [{"filter": "isValid(datum.t1)"}],
         "encoding": {"x": {"field": "t1", "type": "quantitative", "scale": {"domain": [1.1, 1.5], "nice": false, "zero": false}, "axis": null},
                      "y": {"field": "d", "type": "quantitative", "scale": {"domain": [900, 1200], "reverse": true, "nice": false, "zero": false}, "axis": null},
                      "order": {"field": "d", "type": "quantitative"}},
         "layer": [{"mark": {"type": "line", "color": "#ff0000", "strokeWidth": 2.5, "clip": true}},
                   {"mark": {"type": "point", "filled": true, "opacity": 1, "color": "#ff0000", "size": 30, "clip": true}}]}
      ]
    },
    {
      "width": 136, "height": 615, "title": "Monitoring 5",
      "resolve": {"axis": {"x": "independent", "y": "independent"}},
      "layer": [
        {"data": {"name": "wl"}, "mark": {"type": "point", "opacity": 0},
         "encoding": {
           "x": {"field": "g", "type": "quantitative", "scale": {"domain": [1.1, 1.5], "nice": false, "zero": false},
                 "axis": {"orient": "bottom", "values": [1.1,1.12,1.14,1.16,1.18,1.2,1.22,1.24,1.26,1.28,1.3,1.32,1.34,1.36,1.38,1.4,1.42,1.44,1.46,1.48,1.5], "format": ".1f", "grid": true, "gridOpacity": {"condition": {"test": "abs(datum.value-1.2)<0.001||abs(datum.value-1.3)<0.001||abs(datum.value-1.4)<0.001", "value": 1}, "value": 0}, "labelExpr": "abs(datum.value-1.2)<0.001||abs(datum.value-1.4)<0.001 ? datum.label : ''", "labelOverlap": false, "labelFlush": false, "title": "Velocity (km/s)"}},
           "y": {"field": "d", "type": "quantitative", "scale": {"domain": [900, 1200], "reverse": true, "nice": false, "zero": false},
                 "axis": {"orient": "left", "values": [900,910,920,930,940,950,960,970,980,990,1000,1010,1020,1030,1040,1050,1060,1070,1080,1090,1100,1110,1120,1130,1140,1150,1160,1170,1180,1190,1200], "grid": true, "gridOpacity": {"condition": {"test": "datum.value%50==0", "value": 1}, "value": 0}, "labels": false, "title": null}}}},
        {"data": {"name": "wl"}, "mark": {"type": "point", "opacity": 0},
         "encoding": {
           "x": {"field": "g", "type": "quantitative", "scale": {"domain": [1.1, 1.5], "nice": false, "zero": false},
                 "axis": {"orient": "top", "values": [1.1,1.12,1.14,1.16,1.18,1.2,1.22,1.24,1.26,1.28,1.3,1.32,1.34,1.36,1.38,1.4,1.42,1.44,1.46,1.48,1.5], "labels": false, "grid": false, "title": null}},
           "y": {"field": "d", "type": "quantitative", "scale": {"domain": [900, 1200], "reverse": true, "nice": false, "zero": false},
                 "axis": {"orient": "right", "values": [900,910,920,930,940,950,960,970,980,990,1000,1010,1020,1030,1040,1050,1060,1070,1080,1090,1100,1110,1120,1130,1140,1150,1160,1170,1180,1190,1200], "labels": false, "grid": false, "title": null}}}},
        {"data": {"name": "wl"}, "transform": [{"filter": "isValid(datum.g)"}],
         "encoding": {"x": {"field": "g", "type": "quantitative", "scale": {"domain": [1.1, 1.5], "nice": false, "zero": false}, "axis": null},
                      "y": {"field": "d", "type": "quantitative", "scale": {"domain": [900, 1200], "reverse": true, "nice": false, "zero": false}, "axis": null},
                      "order": {"field": "d", "type": "quantitative"}},
         "layer": [{"mark": {"type": "line", "color": "#999999", "strokeWidth": 2.5, "clip": true}},
                   {"mark": {"type": "point", "filled": true, "opacity": 1, "color": "#999999", "size": 32, "clip": true}}]},
        {"data": {"name": "wl"}, "transform": [{"filter": "isValid(datum.k3)"}],
         "encoding": {"x": {"field": "k3", "type": "quantitative", "scale": {"domain": [1.1, 1.5], "nice": false, "zero": false}, "axis": null},
                      "y": {"field": "d", "type": "quantitative", "scale": {"domain": [900, 1200], "reverse": true, "nice": false, "zero": false}, "axis": null},
                      "order": {"field": "d", "type": "quantitative"}},
         "layer": [{"mark": {"type": "line", "color": "#000000", "strokeWidth": 3, "clip": true}},
                   {"mark": {"type": "point", "filled": true, "opacity": 1, "color": "#000000", "size": 36, "clip": true}}]},
        {"data": {"name": "tw"}, "transform": [{"filter": "isValid(datum.t0)"}],
         "encoding": {"x": {"field": "t0", "type": "quantitative", "scale": {"domain": [1.1, 1.5], "nice": false, "zero": false}, "axis": null},
                      "y": {"field": "d", "type": "quantitative", "scale": {"domain": [900, 1200], "reverse": true, "nice": false, "zero": false}, "axis": null},
                      "order": {"field": "d", "type": "quantitative"}},
         "layer": [{"mark": {"type": "line", "color": "#ff8000", "strokeWidth": 1.3, "clip": true}},
                   {"mark": {"type": "point", "filled": true, "opacity": 1, "color": "#ff8000", "size": 16, "clip": true}}]},
        {"data": {"name": "tw"}, "transform": [{"filter": "isValid(datum.t3)"}],
         "encoding": {"x": {"field": "t3", "type": "quantitative", "scale": {"domain": [1.1, 1.5], "nice": false, "zero": false}, "axis": null},
                      "y": {"field": "d", "type": "quantitative", "scale": {"domain": [900, 1200], "reverse": true, "nice": false, "zero": false}, "axis": null},
                      "order": {"field": "d", "type": "quantitative"}},
         "layer": [{"mark": {"type": "line", "color": "#ff0000", "strokeWidth": 2.5, "clip": true}},
                   {"mark": {"type": "point", "filled": true, "opacity": 1, "color": "#ff0000", "size": 30, "clip": true}}]}
      ]
    },
    {
      "width": 136, "height": 615, "title": "Monitoring 6",
      "resolve": {"axis": {"x": "independent", "y": "independent"}},
      "layer": [
        {"data": {"name": "wl"}, "mark": {"type": "point", "opacity": 0},
         "encoding": {
           "x": {"field": "g", "type": "quantitative", "scale": {"domain": [1.1, 1.5], "nice": false, "zero": false},
                 "axis": {"orient": "bottom", "values": [1.1,1.12,1.14,1.16,1.18,1.2,1.22,1.24,1.26,1.28,1.3,1.32,1.34,1.36,1.38,1.4,1.42,1.44,1.46,1.48,1.5], "format": ".1f", "grid": true, "gridOpacity": {"condition": {"test": "abs(datum.value-1.2)<0.001||abs(datum.value-1.3)<0.001||abs(datum.value-1.4)<0.001", "value": 1}, "value": 0}, "labelExpr": "abs(datum.value-1.2)<0.001||abs(datum.value-1.4)<0.001 ? datum.label : ''", "labelOverlap": false, "labelFlush": false, "title": "Velocity (km/s)"}},
           "y": {"field": "d", "type": "quantitative", "scale": {"domain": [900, 1200], "reverse": true, "nice": false, "zero": false},
                 "axis": {"orient": "left", "values": [900,910,920,930,940,950,960,970,980,990,1000,1010,1020,1030,1040,1050,1060,1070,1080,1090,1100,1110,1120,1130,1140,1150,1160,1170,1180,1190,1200], "grid": true, "gridOpacity": {"condition": {"test": "datum.value%50==0", "value": 1}, "value": 0}, "labels": false, "title": null}}}},
        {"data": {"name": "wl"}, "mark": {"type": "point", "opacity": 0},
         "encoding": {
           "x": {"field": "g", "type": "quantitative", "scale": {"domain": [1.1, 1.5], "nice": false, "zero": false},
                 "axis": {"orient": "top", "values": [1.1,1.12,1.14,1.16,1.18,1.2,1.22,1.24,1.26,1.28,1.3,1.32,1.34,1.36,1.38,1.4,1.42,1.44,1.46,1.48,1.5], "labels": false, "grid": false, "title": null}},
           "y": {"field": "d", "type": "quantitative", "scale": {"domain": [900, 1200], "reverse": true, "nice": false, "zero": false},
                 "axis": {"orient": "right", "values": [900,910,920,930,940,950,960,970,980,990,1000,1010,1020,1030,1040,1050,1060,1070,1080,1090,1100,1110,1120,1130,1140,1150,1160,1170,1180,1190,1200], "labels": false, "grid": false, "title": null}}}},
        {"data": {"name": "wl"}, "transform": [{"filter": "isValid(datum.g)"}],
         "encoding": {"x": {"field": "g", "type": "quantitative", "scale": {"domain": [1.1, 1.5], "nice": false, "zero": false}, "axis": null},
                      "y": {"field": "d", "type": "quantitative", "scale": {"domain": [900, 1200], "reverse": true, "nice": false, "zero": false}, "axis": null},
                      "order": {"field": "d", "type": "quantitative"}},
         "layer": [{"mark": {"type": "line", "color": "#999999", "strokeWidth": 2.5, "clip": true}},
                   {"mark": {"type": "point", "filled": true, "opacity": 1, "color": "#999999", "size": 32, "clip": true}}]},
        {"data": {"name": "wl"}, "transform": [{"filter": "isValid(datum.k3)"}],
         "encoding": {"x": {"field": "k3", "type": "quantitative", "scale": {"domain": [1.1, 1.5], "nice": false, "zero": false}, "axis": null},
                      "y": {"field": "d", "type": "quantitative", "scale": {"domain": [900, 1200], "reverse": true, "nice": false, "zero": false}, "axis": null},
                      "order": {"field": "d", "type": "quantitative"}},
         "layer": [{"mark": {"type": "line", "color": "#000000", "strokeWidth": 3, "clip": true}},
                   {"mark": {"type": "point", "filled": true, "opacity": 1, "color": "#000000", "size": 36, "clip": true}}]},
        {"data": {"name": "tw"}, "transform": [{"filter": "isValid(datum.t0)"}],
         "encoding": {"x": {"field": "t0", "type": "quantitative", "scale": {"domain": [1.1, 1.5], "nice": false, "zero": false}, "axis": null},
                      "y": {"field": "d", "type": "quantitative", "scale": {"domain": [900, 1200], "reverse": true, "nice": false, "zero": false}, "axis": null},
                      "order": {"field": "d", "type": "quantitative"}},
         "layer": [{"mark": {"type": "line", "color": "#ff8000", "strokeWidth": 1.3, "clip": true}},
                   {"mark": {"type": "point", "filled": true, "opacity": 1, "color": "#ff8000", "size": 16, "clip": true}}]},
        {"data": {"name": "tw"}, "transform": [{"filter": "isValid(datum.t3)"}],
         "encoding": {"x": {"field": "t3", "type": "quantitative", "scale": {"domain": [1.1, 1.5], "nice": false, "zero": false}, "axis": null},
                      "y": {"field": "d", "type": "quantitative", "scale": {"domain": [900, 1200], "reverse": true, "nice": false, "zero": false}, "axis": null},
                      "order": {"field": "d", "type": "quantitative"}},
         "layer": [{"mark": {"type": "line", "color": "#ff0000", "strokeWidth": 2.5, "clip": true}},
                   {"mark": {"type": "point", "filled": true, "opacity": 1, "color": "#ff0000", "size": 30, "clip": true}}]}
      ]
    },
    {
      "width": 136, "height": 615, "title": "Monitoring 7",
      "resolve": {"axis": {"x": "independent", "y": "independent"}},
      "layer": [
        {"data": {"name": "wl"}, "mark": {"type": "point", "opacity": 0},
         "encoding": {
           "x": {"field": "g", "type": "quantitative", "scale": {"domain": [1.1, 1.5], "nice": false, "zero": false},
                 "axis": {"orient": "bottom", "values": [1.1,1.12,1.14,1.16,1.18,1.2,1.22,1.24,1.26,1.28,1.3,1.32,1.34,1.36,1.38,1.4,1.42,1.44,1.46,1.48,1.5], "format": ".1f", "grid": true, "gridOpacity": {"condition": {"test": "abs(datum.value-1.2)<0.001||abs(datum.value-1.3)<0.001||abs(datum.value-1.4)<0.001", "value": 1}, "value": 0}, "labelExpr": "abs(datum.value-1.2)<0.001||abs(datum.value-1.4)<0.001 ? datum.label : ''", "labelOverlap": false, "labelFlush": false, "title": "Velocity (km/s)"}},
           "y": {"field": "d", "type": "quantitative", "scale": {"domain": [900, 1200], "reverse": true, "nice": false, "zero": false},
                 "axis": {"orient": "left", "values": [900,910,920,930,940,950,960,970,980,990,1000,1010,1020,1030,1040,1050,1060,1070,1080,1090,1100,1110,1120,1130,1140,1150,1160,1170,1180,1190,1200], "grid": true, "gridOpacity": {"condition": {"test": "datum.value%50==0", "value": 1}, "value": 0}, "labels": false, "title": null}}}},
        {"data": {"name": "wl"}, "mark": {"type": "point", "opacity": 0},
         "encoding": {
           "x": {"field": "g", "type": "quantitative", "scale": {"domain": [1.1, 1.5], "nice": false, "zero": false},
                 "axis": {"orient": "top", "values": [1.1,1.12,1.14,1.16,1.18,1.2,1.22,1.24,1.26,1.28,1.3,1.32,1.34,1.36,1.38,1.4,1.42,1.44,1.46,1.48,1.5], "labels": false, "grid": false, "title": null}},
           "y": {"field": "d", "type": "quantitative", "scale": {"domain": [900, 1200], "reverse": true, "nice": false, "zero": false},
                 "axis": {"orient": "right", "values": [900,910,920,930,940,950,960,970,980,990,1000,1010,1020,1030,1040,1050,1060,1070,1080,1090,1100,1110,1120,1130,1140,1150,1160,1170,1180,1190,1200], "labels": false, "grid": false, "title": null}}}},
        {"data": {"name": "wl"}, "transform": [{"filter": "isValid(datum.g)"}],
         "encoding": {"x": {"field": "g", "type": "quantitative", "scale": {"domain": [1.1, 1.5], "nice": false, "zero": false}, "axis": null},
                      "y": {"field": "d", "type": "quantitative", "scale": {"domain": [900, 1200], "reverse": true, "nice": false, "zero": false}, "axis": null},
                      "order": {"field": "d", "type": "quantitative"}},
         "layer": [{"mark": {"type": "line", "strokeWidth": 2.5, "clip": true},
                    "encoding": {"color": {"datum": "Well-log Vp/2 (baseline)", "type": "nominal",
                      "scale": {"domain": ["Well-log Vp/2 (baseline)", "Well-log Vp/2 (each stage)", "Tube wave (baseline)", "Tube wave (each stage)"], "range": ["#999999", "#000000", "#ff8000", "#ff0000"]},
                      "legend": {"title": null, "orient": "top-right", "offset": 7, "symbolType": "M-2.06,0H2.06M-0.29,0A0.29,0.29,0,1,1,0.29,0A0.29,0.29,0,1,1,-0.29,0", "symbolSize": 289, "symbolStrokeWidth": 2.5, "symbolOffset": 7, "labelFontSize": 15.5, "labelFont": "Liberation Sans", "labelColor": "#000000", "labelLimit": 400, "labelOffset": 12, "fillColor": "#ffffff", "strokeColor": "#333333", "padding": 4, "rowPadding": 0}}}},
                   {"mark": {"type": "point", "filled": true, "opacity": 1, "color": "#999999", "size": 32, "clip": true}}]},
        {"data": {"name": "wl"}, "transform": [{"filter": "isValid(datum.k3)"}],
         "encoding": {"x": {"field": "k3", "type": "quantitative", "scale": {"domain": [1.1, 1.5], "nice": false, "zero": false}, "axis": null},
                      "y": {"field": "d", "type": "quantitative", "scale": {"domain": [900, 1200], "reverse": true, "nice": false, "zero": false}, "axis": null},
                      "order": {"field": "d", "type": "quantitative"}},
         "layer": [{"mark": {"type": "line", "strokeWidth": 3, "clip": true}, "encoding": {"color": {"datum": "Well-log Vp/2 (each stage)", "type": "nominal"}}},
                   {"mark": {"type": "point", "filled": true, "opacity": 1, "color": "#000000", "size": 36, "clip": true}}]},
        {"data": {"name": "tw"}, "transform": [{"filter": "isValid(datum.t0)"}],
         "encoding": {"x": {"field": "t0", "type": "quantitative", "scale": {"domain": [1.1, 1.5], "nice": false, "zero": false}, "axis": null},
                      "y": {"field": "d", "type": "quantitative", "scale": {"domain": [900, 1200], "reverse": true, "nice": false, "zero": false}, "axis": null},
                      "order": {"field": "d", "type": "quantitative"}},
         "layer": [{"mark": {"type": "line", "strokeWidth": 1.3, "clip": true}, "encoding": {"color": {"datum": "Tube wave (baseline)", "type": "nominal"}}},
                   {"mark": {"type": "point", "filled": true, "opacity": 1, "color": "#ff8000", "size": 16, "clip": true}}]},
        {"data": {"name": "tw"}, "transform": [{"filter": "isValid(datum.t1)"}],
         "encoding": {"x": {"field": "t1", "type": "quantitative", "scale": {"domain": [1.1, 1.5], "nice": false, "zero": false}, "axis": null},
                      "y": {"field": "d", "type": "quantitative", "scale": {"domain": [900, 1200], "reverse": true, "nice": false, "zero": false}, "axis": null},
                      "order": {"field": "d", "type": "quantitative"}},
         "layer": [{"mark": {"type": "line", "strokeWidth": 2.5, "clip": true}, "encoding": {"color": {"datum": "Tube wave (each stage)", "type": "nominal"}}},
                   {"mark": {"type": "point", "filled": true, "opacity": 1, "color": "#ff0000", "size": 30, "clip": true}}]}
      ]
    }
  ]
}
